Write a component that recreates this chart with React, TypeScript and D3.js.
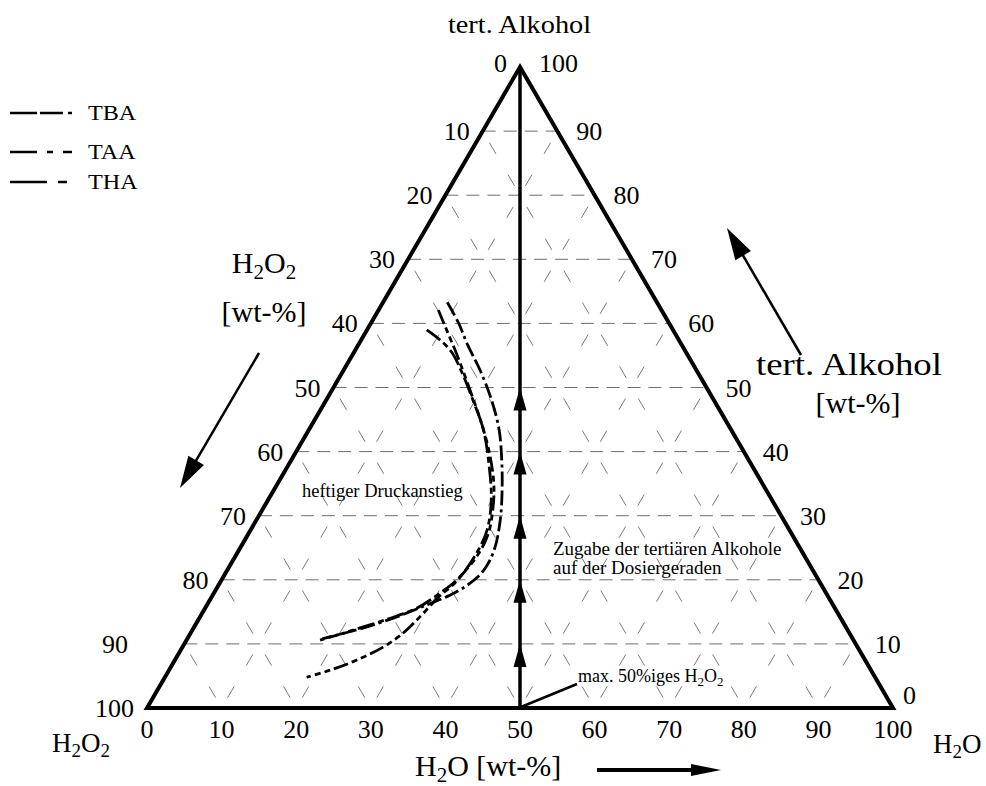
import React from 'react';
import * as d3 from 'd3';

// ---------- data ----------
const tickValues = [0, 10, 20, 30, 40, 50, 60, 70, 80, 90, 100];
const gridLevels = [10, 20, 30, 40, 50, 60, 70, 80, 90];
const arrowLevels = [10, 20, 30, 40, 50];

// points as [H2O wt-%, tert. Alkohol wt-%]
const TBA: [number, number][] = [
  [8.6, 63.3], [11.7, 60.1], [14.7, 56.6], [18.3, 52.7], [22.2, 48.0], [25.5, 43.4],
  [28.2, 38.7], [30.6, 34.0], [32.7, 29.3], [34.2, 24.7], [34.4, 21.5], [33.4, 19.2],
  [31.8, 17.6], [29.5, 16.1], [26.7, 14.4], [23.5, 12.8], [20.7, 11.7], [18.1, 10.8],
];
const TAA: [number, number][] = [
  [8.0, 62.1], [10.4, 59.3], [14.0, 55.1], [18.5, 49.6], [22.8, 44.2], [26.2, 39.5],
  [29.1, 34.8], [30.9, 30.9], [32.2, 27.0], [32.4, 23.9], [32.0, 21.5], [31.4, 19.2],
  [30.5, 17.5], [29.9, 15.6], [29.2, 13.4], [28.5, 11.7], [26.9, 9.5], [24.4, 7.5],
  [21.6, 5.9], [19.0, 4.8],
];
const THA: [number, number][] = [
  [8.0, 59.0], [10.6, 57.4], [13.1, 55.5], [16.0, 52.4], [19.7, 48.0], [23.4, 43.4],
  [26.9, 37.9], [29.9, 32.5], [31.7, 27.8], [32.1, 24.2], [31.7, 20.4], [30.3, 17.9],
  [28.4, 15.6], [25.6, 14.0], [22.3, 12.5], [20.1, 11.5], [17.9, 10.6],
];
const seriesNames = ['TBA', 'TAA', 'THA'];

// ---------- geometry ----------
const W = 986;
const H = 786;
const xBase = d3.scaleLinear().domain([0, 100]).range([147, 893]);
const yAlk = d3.scaleLinear().domain([0, 100]).range([708, 67]);
const P = (w: number, a: number): [number, number] => [xBase(w + a / 2), yAlk(a)];

const FONT = '"Liberation Serif", "Times New Roman", serif';
const curveDash: Record<string, string> = {
  TBA: '15,4,15,4,3,4',
  TAA: '15,4,6,4,6,4',
  THA: '17,4,6,4',
};
const legendDash: Record<string, string> = {
  TBA: '27,3,23,5,4,200',
  TAA: '27,10,6,10,9,200',
  THA: '37,11,9,200',
};

const line = d3
  .line<[number, number]>()
  .x((d) => P(d[0], d[1])[0])
  .y((d) => P(d[0], d[1])[1])
  .curve(d3.curveCatmullRom.alpha(0.5));

function Arrow({ x1, y1, x2, y2, len, hw, sw }: { x1: number; y1: number; x2: number; y2: number; len: number; hw: number; sw: number }) {
  const dx = x2 - x1;
  const dy = y2 - y1;
  const L = Math.hypot(dx, dy);
  const ux = dx / L;
  const uy = dy / L;
  const bx = x2 - ux * len;
  const by = y2 - uy * len;
  const pts = [
    [x2, y2],
    [bx - uy * hw, by + ux * hw],
    [bx + uy * hw, by - ux * hw],
  ];
  return (
    <g>
      <line x1={x1} y1={y1} x2={bx + ux * 2} y2={by + uy * 2} stroke="#000" strokeWidth={sw} />
      <polygon points={pts.map((p) => p.join(',')).join(' ')} fill="#000" />
    </g>
  );
}

export default function App() {
  const triPts = [P(0, 0), P(100, 0), P(0, 100)];
  const grid: { a: [number, number]; b: [number, number]; kind: string }[] = [];
  gridLevels.forEach((v) => {
    grid.push({ a: P(0, v), b: P(100 - v, v), kind: 'h' });
    grid.push({ a: P(v, 0), b: P(v, 100 - v), kind: 'd' });
    grid.push({ a: P(100 - v, 0), b: P(0, 100 - v), kind: 'd' });
  });
  const series: [string, [number, number][]][] = [
    ['TBA', TBA],
    ['TAA', TAA],
    ['THA', THA],
  ];

  return (
    <svg width={W} height={H} style={{ position: 'absolute', left: 0, top: 0, background: '#fff' }} fontFamily={FONT}>
      <rect x={0} y={0} width={W} height={H} fill="#fff" />
      {/* grid */}
      {grid.map((g, i) => (
        <line
          key={i}
          x1={g.a[0]}
          y1={g.a[1]}
          x2={g.b[0]}
          y2={g.b[1]}
          stroke={g.kind === 'h' ? '#6e6e6e' : '#7a7a7a'}
          strokeWidth={1}
          strokeDasharray={g.kind === 'h' ? '13,8' : '13,24'}
          strokeDashoffset={g.kind === 'h' ? 0 : -12}
        />
      ))}
      {/* triangle */}
      <polygon points={triPts.map((p) => p.join(',')).join(' ')} fill="none" stroke="#000" strokeWidth={4} strokeLinejoin="miter" />
      {/* dosing line */}
      <line x1={P(50, 0)[0]} y1={P(50, 0)[1]} x2={P(0, 100)[0]} y2={P(0, 100)[1]} stroke="#000" strokeWidth={3.5} />
      {arrowLevels.map((a) => {
        const [x, y] = P((100 - a) / 2, a);
        return <polygon key={a} points={`${x},${y} ${x - 6.5},${y + 23} ${x + 6.5},${y + 23}`} fill="#000" />;
      })}
      {/* curves */}
      {series.map(([name, data]) => (
        <path key={name} d={line(data) || ''} fill="none" stroke="#000" strokeWidth={2.8} strokeDasharray={curveDash[name]} />
      ))}
      {/* bottom ticks */}
      {tickValues.map((v) => (
        <text key={'b' + v} x={xBase(v)} y={738} fontSize={26} textAnchor="middle">
          {v}
        </text>
      ))}
      {/* left ticks (H2O2) */}
      {tickValues.map((v) => {
        const [x, y] = P(0, 100 - v);
        const xx = v === 90 ? 128 : x - 13;
        return (
          <text key={'l' + v} x={xx} y={v === 0 ? y + 5 : y + 9} fontSize={26} textAnchor="end">
            {v}
          </text>
        );
      })}
      {/* right ticks (alcohol) */}
      {tickValues.map((v) => {
        const [x, y] = P(100 - v, v);
        const isZero = v === 0;
        return (
          <text key={'r' + v} x={isZero ? x + 10 : x + 19} y={isZero ? y - 4 : v === 100 ? y + 5 : y + 9} fontSize={26} textAnchor="start">
            {v}
          </text>
        );
      })}
      {/* titles */}
      <text transform="translate(519.5,33) scale(1.09,1)" fontSize={26} textAnchor="middle">
        tert. Alkohol
      </text>
      <text transform="translate(849,375) scale(1.15,1)" fontSize={32} textAnchor="middle">
        tert. Alkohol
      </text>
      <text x={858} y={413} fontSize={30} textAnchor="middle">
        [wt-%]
      </text>
      <text x={264} y={273} fontSize={30} textAnchor="middle">
        H<tspan fontSize={21} dy={6}>2</tspan>
        <tspan dy={-6}>O</tspan>
        <tspan fontSize={21} dy={6}>2</tspan>
      </text>
      <text x={264} y={322} fontSize={30} textAnchor="middle">
        [wt-%]
      </text>
      <text x={415} y={776} fontSize={30}>
        H<tspan fontSize={21} dy={6}>2</tspan>
        <tspan dy={-6}>O [wt-%]</tspan>
      </text>
      <text x={52} y={752} fontSize={27}>
        H<tspan fontSize={19} dy={5}>2</tspan>
        <tspan dy={-5}>O</tspan>
        <tspan fontSize={19} dy={5}>2</tspan>
      </text>
      <text x={933} y={753} fontSize={27}>
        H<tspan fontSize={19} dy={5}>2</tspan>
        <tspan dy={-5}>O</tspan>
      </text>
      {/* direction arrows */}
      <Arrow x1={259} y1={353} x2={180} y2={488} len={32} hw={9} sw={2.5} />
      <Arrow x1={801} y1={355} x2={727} y2={228} len={32} hw={9} sw={2.5} />
      <Arrow x1={597} y1={770} x2={721} y2={770} len={30} hw={6} sw={4} />
      {/* annotations */}
      <text x={302} y={497} fontSize={18.5}>
        heftiger Druckanstieg
      </text>
      <text x={553} y={555} fontSize={19}>
        Zugabe der tertiären Alkohole
      </text>
      <text x={553} y={574} fontSize={19}>
        auf der Dosiergeraden
      </text>
      <line x1={521} y1={707} x2={577} y2={684} stroke="#000" strokeWidth={2.5} />
      <text x={578} y={682} fontSize={18}>
        max. 50%iges H<tspan fontSize={13} dy={4}>2</tspan>
        <tspan dy={-4}>O</tspan>
        <tspan fontSize={13} dy={4}>2</tspan>
      </text>
      {/* legend */}
      {seriesNames.map((n, i) => {
        const ly = [113, 152, 182][i];
        return (
          <g key={n}>
            <line x1={10} y1={ly} x2={75} y2={ly} stroke="#000" strokeWidth={2.4} strokeDasharray={legendDash[n]} />
            <text transform={`translate(88,${ly + 7}) scale(1.15,1)`} fontSize={21}>
              {n}
            </text>
          </g>
        );
      })}
    </svg>
  );
}
